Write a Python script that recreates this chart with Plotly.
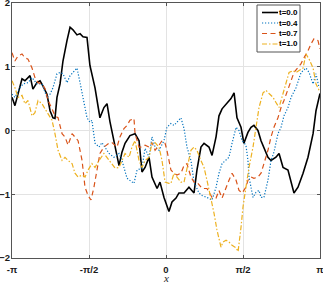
import numpy as np
import plotly.graph_objects as go

# x positions are in units of pi
x0 = [-1.000,-0.981,-0.935,-0.916,-0.883,-0.864,-0.838,-0.818,-0.799,-0.773,-0.753,-0.734,-0.721,-0.708,-0.688,-0.669,-0.643,-0.623,-0.604,-0.578,-0.558,-0.539,-0.513,-0.494,-0.461,-0.429,-0.403,-0.383,-0.364,-0.338,-0.305,-0.286,-0.266,-0.234,-0.201,-0.175,-0.156,-0.136,-0.110,-0.091,-0.058,-0.039,-0.013,0.019,0.039,0.065,0.084,0.117,0.149,0.182,0.201,0.227,0.247,0.279,0.299,0.325,0.344,0.364,0.396,0.422,0.442,0.461,0.487,0.506,0.532,0.552,0.571,0.597,0.617,0.636,0.662,0.682,0.714,0.734,0.760,0.792,0.812,0.831,0.857,0.890,0.922,0.955,0.974,1.000]
y0 = [0.52,0.39,0.81,0.78,0.86,0.65,0.75,0.78,0.70,0.57,0.31,0.20,0.19,0.52,0.73,1.09,1.41,1.62,1.58,1.50,1.52,1.47,1.46,1.02,0.67,0.20,0.36,0.42,0.14,-0.16,-0.55,-0.34,-0.20,-0.08,-0.05,-0.16,-0.65,-0.58,-0.42,-0.73,-0.91,-0.81,-1.05,-1.27,-1.12,-1.06,-0.98,-0.98,-0.89,-0.98,-0.62,-0.26,-0.20,-0.26,-0.39,-0.10,0.23,0.34,0.42,0.50,0.59,0.20,0.05,-0.20,-0.03,0.05,0.08,0.00,-0.16,-0.26,-0.42,-0.47,-0.42,-0.36,-0.58,-0.62,-0.83,-0.98,-0.89,-0.67,-0.42,-0.05,0.31,0.58]

x4 = [-1.000,-0.981,-0.948,-0.929,-0.896,-0.870,-0.838,-0.805,-0.773,-0.753,-0.734,-0.708,-0.688,-0.669,-0.643,-0.623,-0.604,-0.578,-0.558,-0.539,-0.513,-0.494,-0.481,-0.461,-0.435,-0.416,-0.396,-0.370,-0.338,-0.305,-0.286,-0.253,-0.208,-0.188,-0.156,-0.136,-0.110,-0.091,-0.071,-0.045,-0.013,0.006,0.032,0.052,0.071,0.097,0.117,0.136,0.162,0.182,0.214,0.234,0.266,0.299,0.325,0.344,0.364,0.390,0.409,0.429,0.455,0.474,0.494,0.519,0.532,0.539,0.565,0.584,0.604,0.617,0.636,0.662,0.682,0.701,0.727,0.747,0.766,0.792,0.812,0.844,0.877,0.909,0.929,0.955,0.974,0.994]
y4 = [0.57,0.52,0.67,0.73,0.75,0.83,0.73,0.73,0.52,0.57,0.67,0.89,0.91,0.89,0.75,0.86,0.91,0.98,0.75,0.52,0.20,0.13,0.16,-0.20,-0.26,-0.19,-0.26,-0.36,-0.42,-0.36,-0.47,-0.75,-0.83,-0.62,-0.59,-0.28,-0.42,-0.10,-0.26,-0.31,-0.16,0.05,0.11,0.08,0.13,0.20,0.03,-0.26,-0.47,-0.81,-0.98,-1.02,-1.05,-1.09,-0.89,-0.67,-0.52,-0.47,-0.42,-0.20,0.05,0.00,-0.16,-0.23,-0.47,-0.73,-1.05,-0.97,-0.94,-1.05,-1.05,-0.78,-0.47,-0.34,-0.05,0.05,0.23,0.36,0.52,0.67,0.91,0.98,0.91,0.73,0.89,0.67]

x7 = [-1.000,-0.981,-0.961,-0.935,-0.916,-0.896,-0.870,-0.851,-0.831,-0.805,-0.786,-0.766,-0.740,-0.721,-0.701,-0.675,-0.656,-0.636,-0.610,-0.591,-0.571,-0.545,-0.526,-0.506,-0.487,-0.468,-0.448,-0.429,-0.403,-0.370,-0.351,-0.318,-0.299,-0.273,-0.253,-0.234,-0.208,-0.201,-0.175,-0.156,-0.136,-0.110,-0.091,-0.071,-0.045,-0.026,-0.006,0.006,0.032,0.052,0.071,0.097,0.117,0.136,0.162,0.182,0.201,0.234,0.266,0.299,0.325,0.344,0.364,0.390,0.409,0.429,0.455,0.474,0.494,0.519,0.532,0.552,0.571,0.597,0.617,0.636,0.662,0.682,0.701,0.727,0.747,0.766,0.792,0.812,0.831,0.857,0.877,0.896,0.922,0.942,0.961,0.987,1.000]
y7 = [1.22,1.09,1.17,1.20,1.14,1.12,0.98,0.83,0.75,0.73,0.66,0.47,0.34,0.23,0.20,-0.05,-0.10,-0.23,-0.05,-0.10,-0.16,-0.47,-0.89,-1.02,-1.09,-0.89,-0.62,-0.36,-0.26,-0.20,-0.19,-0.26,-0.10,0.03,0.08,0.16,0.19,-0.05,-0.26,-0.26,-0.23,-0.26,-0.19,-0.31,-0.23,-0.16,-0.20,-0.31,-0.62,-0.67,-0.70,-0.67,-0.55,-0.52,-0.73,-0.81,-0.81,-0.91,-0.91,-1.05,-1.06,-0.94,-1.06,-0.89,-0.78,-0.67,-0.78,-0.94,-0.98,-0.89,-0.78,-0.73,-0.75,-0.73,-0.67,-0.52,-0.31,-0.10,0.05,0.20,0.36,0.47,0.63,0.78,0.91,0.98,1.05,1.14,1.25,1.36,1.44,1.41,1.28]

x10 = [-1.000,-0.981,-0.961,-0.935,-0.916,-0.896,-0.870,-0.851,-0.831,-0.805,-0.786,-0.766,-0.740,-0.721,-0.701,-0.675,-0.656,-0.636,-0.610,-0.591,-0.571,-0.545,-0.526,-0.506,-0.481,-0.461,-0.435,-0.403,-0.383,-0.351,-0.331,-0.305,-0.286,-0.266,-0.240,-0.221,-0.201,-0.175,-0.156,-0.136,-0.110,-0.091,-0.071,-0.045,-0.026,-0.006,0.019,0.032,0.052,0.071,0.097,0.117,0.136,0.162,0.182,0.201,0.227,0.247,0.266,0.292,0.312,0.331,0.357,0.370,0.390,0.409,0.429,0.455,0.468,0.487,0.500,0.519,0.539,0.565,0.584,0.604,0.630,0.649,0.669,0.695,0.714,0.734,0.760,0.779,0.799,0.825,0.844,0.864,0.890,0.909,0.929,0.955,0.974,0.994]
y10 = [0.78,0.67,0.52,0.55,0.42,0.47,0.23,0.28,0.47,0.42,0.34,0.27,0.16,-0.05,-0.31,-0.47,-0.42,-0.47,-0.52,-0.67,-0.73,-0.70,-0.73,-0.62,-0.52,-0.58,-0.47,-0.36,-0.42,-0.52,-0.59,-0.58,-0.47,-0.36,-0.42,-0.26,-0.16,-0.47,-0.58,-0.47,-0.42,-0.20,-0.19,-0.26,-0.47,-0.81,-0.83,-0.83,-0.67,-0.73,-0.81,-0.81,-0.59,-0.31,-0.26,-0.31,-0.47,-0.58,-0.78,-1.05,-1.30,-1.56,-1.83,-1.75,-1.72,-1.75,-1.80,-1.84,-1.90,-1.52,-1.20,-0.89,-0.58,-0.26,0.05,0.36,0.59,0.63,0.58,0.52,0.44,0.36,0.58,0.73,0.91,0.94,0.91,0.94,0.98,1.20,1.12,0.98,0.73,0.63]

names = ["t=0.0", "t=0.4", "t=0.7", "t=1.0"]
colors = ["#000000", "#0072BD", "#D95319", "#EDB120"]
dashes = ["solid", "1.2px,1.8px", "5px,3.5px", "5px,2px,1.5px,2px"]
widths = [1.6, 1.2, 1.2, 1.2]
tick_vals_pi = [-1, -0.5, 0, 0.5, 1]
tick_text = ["-π", "-π/2", "0", "π/2", "π"]
y_ticks = [-2, -1, 0, 1, 2]

W, H = 323, 282
ML, MR, MT, MB = 12, 3, 3, 24
PW, PH = W - ML - MR, H - MT - MB


def px(xp):
    return (xp - ML) / PW


def py(yp):
    return (H - MB - yp) / PH


fig = go.Figure()
for xs, ys, n, c, d, w in zip([x0, x4, x7, x10], [y0, y4, y7, y10], names, colors, dashes, widths):
    fig.add_trace(go.Scatter(x=np.array(xs) * np.pi, y=ys, mode="lines", name=n,
                             line=dict(color=c, dash=d, width=w)))

tickfont = dict(family="Liberation Sans, Arial", size=9.5, color="#1a1a1a", weight="bold")
axis_common = dict(showline=True, mirror="ticks", linecolor="#555555", linewidth=1,
                   ticks="inside", ticklen=3, tickcolor="#555555",
                   showgrid=True, gridcolor="#e3e3e3", gridwidth=1, zeroline=False,
                   automargin=False, ticklabeloverflow="allow", tickfont=tickfont)

eps = 1e-6
fig.update_layout(
    width=W, height=H,
    margin=dict(l=ML, r=MR, t=MT, b=MB),
    paper_bgcolor="white", plot_bgcolor="white",
    showlegend=False,
    xaxis=dict(range=[-np.pi - eps, np.pi + eps], tickvals=[v * np.pi for v in tick_vals_pi],
               ticktext=tick_text, ticklabelstandoff=3, **axis_common),
    yaxis=dict(range=[-2 - eps, 2 + eps], tickvals=y_ticks, ticklabelstandoff=-1, **axis_common),
)

# x-axis title
fig.add_annotation(text="<i>x</i>", xref="paper", yref="paper", x=0.5, y=0, yshift=-MB - 3,
                   showarrow=False, yanchor="bottom", borderpad=0,
                   font=dict(family="Liberation Serif, DejaVu Serif", size=11, color="#262626"))

# legend box
fig.add_shape(type="rect", xref="paper", yref="paper", x0=px(257), x1=px(300), y0=py(52), y1=py(5),
              line=dict(color="#555555", width=1), fillcolor="white", layer="above")
rows = [12.5, 23, 33.5, 44]
for r, n, c, d, w in zip(rows, names, colors, dashes, widths):
    fig.add_shape(type="line", xref="paper", yref="paper", x0=px(262), x1=px(278), y0=py(r), y1=py(r),
                  line=dict(color=c, dash=d, width=w), layer="above")
    fig.add_annotation(text=n, xref="paper", yref="paper", x=px(278), y=py(r), xanchor="left",
                       yanchor="middle", showarrow=False, borderpad=0,
                       font=dict(family="Liberation Sans, Arial", size=8, color="#000000", weight="bold"))

fig.write_html("out.html", config={"displayModeBar": False},
               post_script="document.body.style.margin='0';")
